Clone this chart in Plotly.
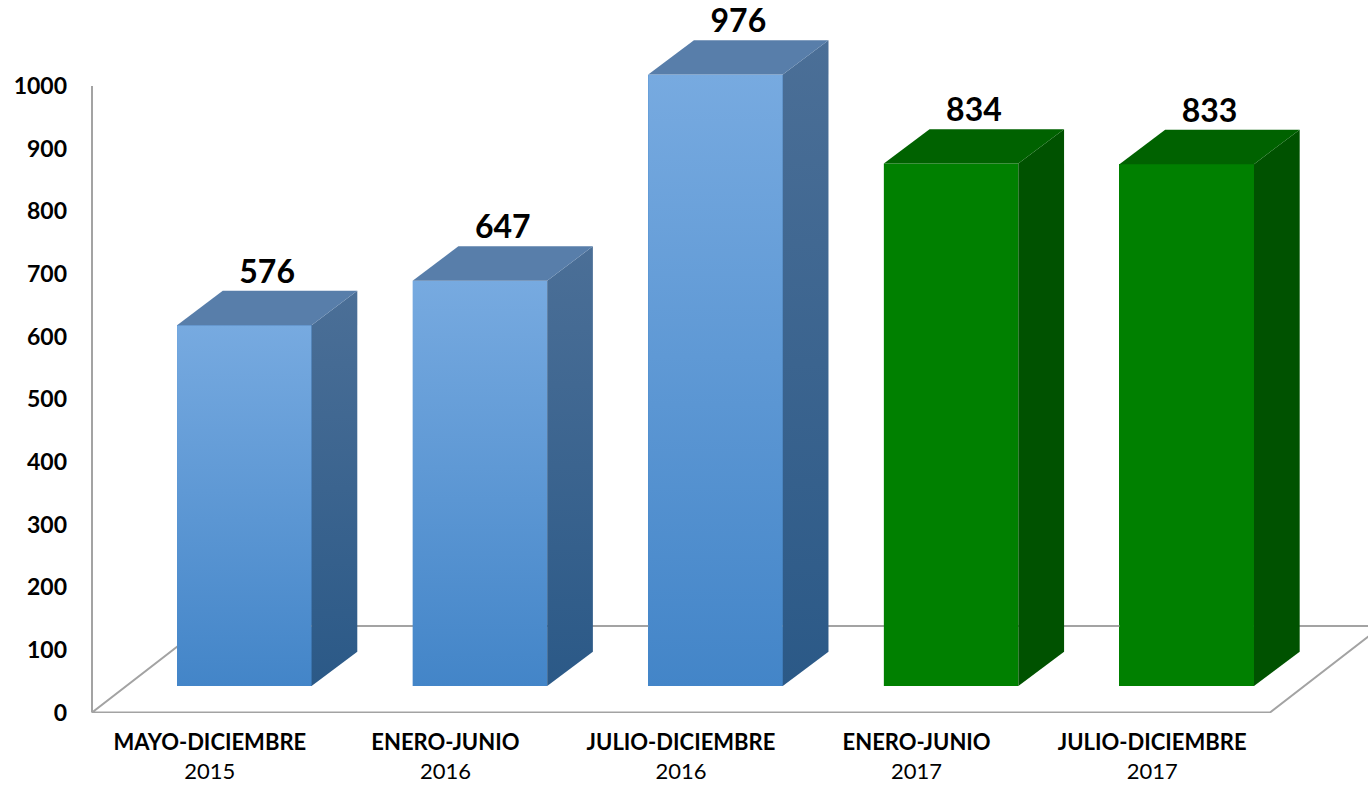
import plotly.graph_objects as go

# --- data -------------------------------------------------------------
periods = ["MAYO-DICIEMBRE", "ENERO-JUNIO", "JULIO-DICIEMBRE", "ENERO-JUNIO", "JULIO-DICIEMBRE"]
years = ["2015", "2016", "2016", "2017", "2017"]
values = [576, 647, 976, 834, 833]
y_ticks = [0, 100, 200, 300, 400, 500, 600, 700, 800, 900, 1000]

# --- styling ----------------------------------------------------------
BLUE = dict(front_top="#77AAE0", front_bottom="#4385C8",
            side_top="#4B6F97", side_bottom="#2B5987", top="#587EAA")
GREEN = dict(front_top="#008000", front_bottom="#008000",
             side_top="#005200", side_bottom="#005200", top="#006200")
palette = [BLUE, BLUE, BLUE, GREEN, GREEN]

FONT = "Lato, 'Open Sans', sans-serif"

# pseudo-3D geometry (axis units)
BAR_LEFT = -0.139      # front-face left edge relative to the category slot centre
BAR_W = 0.571          # front-face width
DEPTH_X = 0.194        # bar depth, horizontal component
DEPTH_Y = 54.8         # bar depth, vertical component
BASE = 42.3            # bars stand in the middle of the floor depth
FLOOR_DX = 0.475
FLOOR_DY = 138.0

X0, X1 = -0.5934, 4.916
Y0, Y1 = -0.8, 1137.3

fig = go.Figure()

# floor outline
n = len(values)
fx = [-0.5, n - 0.5, n - 0.5 + FLOOR_DX, -0.5 + FLOOR_DX, -0.5]
fy = [0, 0, FLOOR_DY, FLOOR_DY, 0]
fig.add_trace(go.Scatter(x=fx, y=fy, mode="lines",
                         line=dict(color="#A3A3A3", width=2),
                         hoverinfo="skip", showlegend=False))
# vertical value axis
fig.add_trace(go.Scatter(x=[-0.5, -0.5], y=[0, y_ticks[-1]], mode="lines",
                         line=dict(color="#A3A3A3", width=2),
                         hoverinfo="skip", showlegend=False))

# front faces as real bars
centers = [i + BAR_LEFT + BAR_W / 2 for i in range(n)]
fig.add_trace(go.Bar(x=centers, y=values, base=BASE, width=BAR_W,
                     marker=dict(color=[p["front_bottom"] for p in palette], line=dict(width=0)),
                     hovertemplate="%{y}<extra></extra>", showlegend=False))

for i, (v, p) in enumerate(zip(values, palette)):
    l = i + BAR_LEFT
    r = l + BAR_W
    top = BASE + v
    # shaded front face
    fig.add_trace(go.Scatter(
        x=[l, r, r, l, l], y=[BASE, BASE, top, top, BASE],
        mode="lines", fill="toself", line=dict(width=0, color="rgba(0,0,0,0)"),
        fillgradient=dict(type="vertical",
                          colorscale=[[0, p["front_bottom"]], [1, p["front_top"]]]),
        hoverinfo="skip", showlegend=False))
    # side face
    fig.add_trace(go.Scatter(
        x=[r, r + DEPTH_X, r + DEPTH_X, r, r],
        y=[BASE, BASE + DEPTH_Y, top + DEPTH_Y, top, BASE],
        mode="lines", fill="toself", line=dict(width=0, color="rgba(0,0,0,0)"),
        fillgradient=dict(type="vertical",
                          colorscale=[[0, p["side_bottom"]], [1, p["side_top"]]]),
        hoverinfo="skip", showlegend=False))
    # top face
    fig.add_trace(go.Scatter(
        x=[l, r, r + DEPTH_X, l + DEPTH_X, l],
        y=[top, top, top + DEPTH_Y, top + DEPTH_Y, top],
        mode="lines", fill="toself", fillcolor=p["top"],
        line=dict(width=0, color="rgba(0,0,0,0)"),
        hoverinfo="skip", showlegend=False))

# value labels above each bar
fig.add_trace(go.Scatter(
    x=[c + DEPTH_X / 2 for c in centers],
    y=[BASE + v + DEPTH_Y for v in values],
    mode="text", text=[str(v) for v in values], textposition="top center",
    textfont=dict(family=FONT, size=32, color="#000000", weight="bold"),
    cliponaxis=False, hoverinfo="skip", showlegend=False))

fig.update_layout(
    width=1368, height=785,
    margin=dict(l=70, r=0, t=0, b=72, autoexpand=False),
    paper_bgcolor="white", plot_bgcolor="white",
    bargap=0,
    xaxis=dict(range=[X0, X1], showgrid=False, zeroline=False, showline=False,
               automargin=False,
               tickmode="array", tickvals=list(range(n)),
               ticktext=[f"<b>{a}</b><br>{b}" for a, b in zip(periods, years)],
               tickfont=dict(family=FONT, size=22, color="#000000"),
               ticks="", ticklabelstandoff=14),
    yaxis=dict(range=[Y0, Y1], showgrid=False, zeroline=False, showline=False,
               automargin=False,
               tickmode="array", tickvals=y_ticks,
               tickfont=dict(family=FONT, size=23, color="#000000", weight="bold"),
               ticks="", ticklabelstandoff=2),
)

fig.write_html("out.html")
